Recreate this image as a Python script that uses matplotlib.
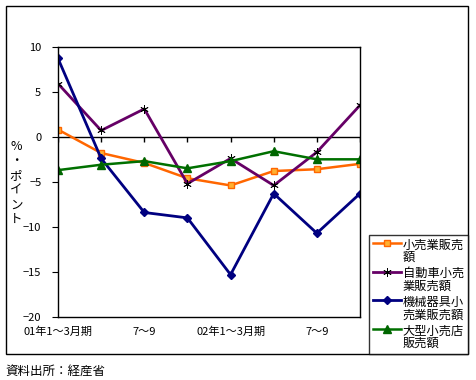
import numpy as np
import matplotlib
matplotlib.use("Agg")
import matplotlib.pyplot as plt
from matplotlib.patches import Rectangle

plt.rcParams['font.family'] = ['Noto Sans CJK JP', 'DejaVu Sans']

categories = ['01年1～3月期', '', '7～9', '', '02年1～3月期', '', '7～9', '']
retail = [0.8, -1.8, -2.9, -4.6, -5.4, -3.8, -3.6, -3.0]
auto = [5.9, 0.7, 3.1, -5.2, -2.4, -5.4, -1.7, 3.5]
machinery = [8.7, -2.4, -8.4, -9.0, -15.3, -6.3, -10.7, -6.3]
large_store = [-3.7, -3.1, -2.7, -3.5, -2.7, -1.6, -2.5, -2.5]
labels = ['小売業販売\n額', '自動車小売\n業販売額', '機械器具小\n売業販売額', '大型小売店\n販売額']

fig = plt.figure(figsize=(4.77, 3.8), dpi=100)
ax = fig.add_axes([58/477, 1-317/380, (360-58)/477, (317-46.7)/380])
x = np.arange(len(categories))

ax.plot(x, retail, color='#FF6600', lw=1.8, marker='s', ms=4.5,
        mfc='#FFB030', mec='#FF6600', label=labels[0])
ax.plot(x, auto, color='#660066', lw=2.0, marker=(6, 2, 0), ms=6,
        mec='black', mew=0.6, label=labels[1])
ax.plot(x, machinery, color='#000080', lw=2.0, marker='D', ms=4.5,
        mfc='#000080', mec='#000080', label=labels[2])
ax.plot(x, large_store, color='#007000', lw=1.8, marker='^', ms=6,
        mfc='#006600', mec='#006600', label=labels[3])

ax.set_xlim(0, len(categories) - 1)
ax.set_ylim(-20, 10)
ax.set_yticks(np.arange(-20, 11, 5))
ax.tick_params(axis='y', labelsize=8, length=4, width=0.8, direction='out', pad=8)
ax.set_xticks(x)
ax.set_xticklabels(categories, fontsize=8)
ax.tick_params(axis='x', length=0, pad=7)

# x axis at zero with tick marks
ax.axhline(0, color='black', lw=1, zorder=1)
ax.vlines(x, -0.6, 0, color='black', lw=1, zorder=1)

for s in ax.spines.values():
    s.set_linewidth(1)

for i, ch in enumerate('%・ポイント'):
    fig.text(16/477, 1-(146 + i*14.7)/380, ch, fontsize=9, ha='center', va='center')

leg = fig.legend(loc='upper left', bbox_to_anchor=(369/477, 1-235/380),
                 fontsize=8.8, frameon=True, fancybox=False, handlelength=2.3,
                 handletextpad=0.15, borderpad=0.3, labelspacing=0.25, borderaxespad=0)
leg.get_frame().set_edgecolor('black')
leg.get_frame().set_linewidth(1)
for t in leg.get_texts():
    t.set_linespacing(0.95)
# put the handle next to the first line of each two-line label
for col in leg._legend_handle_box.get_children():
    for row in col.get_children():
        row.align = 'top'

fig.patches.append(Rectangle((6/477, 1-354/380), (468-6)/477, (354-6)/380,
                             transform=fig.transFigure, fill=False, ec='black', lw=1))
fig.text(5/477, 1-371/380, '資料出所：経産省', fontsize=9, ha='left', va='center')

fig.savefig('out.png', dpi=100)
